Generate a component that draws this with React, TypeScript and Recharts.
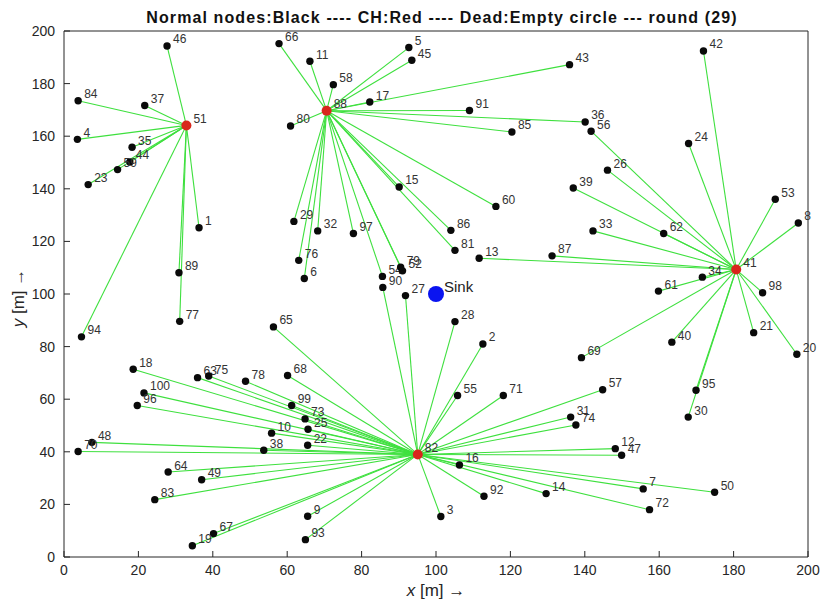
import React from 'react';
import { ScatterChart, Scatter, XAxis, YAxis, ReferenceLine, Label } from 'recharts';

// normal nodes: id, position [m] and the cluster head they report to
const NODE_IDS = [
  46, 84, 37, 4, 35, 44, 59, 23, 1, 89, 77, 94,
  66, 11, 58, 5, 45, 17, 43, 91, 36, 85, 80, 15, 60, 86, 81, 29, 32, 76, 6, 97, 54, 52, 79,
  42, 56, 24, 26, 39, 53, 8, 33, 62, 87, 13, 34, 61, 98, 21, 40, 69, 20, 95, 30,
  65, 18, 63, 75, 78, 68, 100, 96, 99, 73, 25, 10, 22, 48, 70, 38, 64, 49, 83, 9, 67, 19, 93,
  90, 27, 28, 2, 55, 71, 57, 31, 74, 12, 47, 7, 50, 72, 16, 92, 14, 3,
];
const NODE_X = [
  27.7, 3.8, 21.7, 3.6, 18.3, 17.7, 14.4, 6.5, 36.3, 30.9, 31.1, 4.7,
  57.8, 66.1, 72.4, 92.7, 93.5, 82.2, 135.9, 109.0, 140.1, 120.4, 60.9, 90.1, 116.1, 104.0, 105.1, 61.8, 68.2, 63.1, 64.6, 77.8, 85.6, 91.0, 90.5,
  171.9, 141.7, 167.9, 146.1, 136.9, 191.2, 197.4, 142.2, 161.2, 131.2, 111.6, 171.6, 159.8, 187.8, 185.4, 163.4, 139.1, 197.0, 169.9, 167.8,
  56.3, 18.6, 35.9, 38.9, 48.8, 60.1, 21.5, 19.7, 61.2, 64.8, 65.6, 55.8, 65.5, 7.5, 3.8, 53.7, 28.0, 37.0, 24.4, 65.5, 40.2, 34.5, 64.9,
  85.7, 91.8, 105.1, 112.6, 105.8, 118.1, 144.8, 136.2, 137.6, 148.2, 149.9, 155.7, 174.9, 157.4, 106.3, 112.9, 129.6, 101.3,
];
const NODE_Y = [
  194.3, 173.5, 171.7, 158.8, 155.8, 150.2, 147.3, 141.6, 125.2, 108.1, 89.6, 83.7,
  195.2, 188.5, 179.6, 193.7, 188.9, 173.0, 187.2, 169.8, 165.4, 161.6, 163.9, 140.7, 133.3, 124.2, 116.6, 127.6, 124.0, 112.8, 105.9, 123.0, 106.7, 108.8, 110.2,
  192.4, 161.9, 157.2, 147.1, 140.3, 136.0, 127.0, 124.0, 123.0, 114.5, 113.6, 106.4, 101.1, 100.5, 85.3, 81.7, 75.8, 77.1, 63.4, 53.2,
  87.5, 71.4, 68.2, 68.8, 66.8, 69.0, 62.4, 57.6, 57.6, 52.5, 48.6, 47.1, 42.5, 43.6, 40.1, 40.6, 32.3, 29.4, 21.8, 15.5, 8.9, 4.3, 6.6,
  102.5, 99.4, 89.5, 81.0, 61.4, 61.4, 63.6, 53.2, 50.2, 41.2, 38.7, 25.9, 24.6, 18.0, 35.0, 23.1, 24.1, 15.4,
];
const NODE_HEAD = [
  ...Array(12).fill(51),
  ...Array(23).fill(88),
  ...Array(20).fill(41),
  ...Array(41).fill(82),
];

// cluster heads
const CH_IDS = [51, 88, 41, 82];
const CH_X = [32.9, 70.6, 180.7, 95.1];
const CH_Y = [164.1, 169.7, 109.3, 39.0];

// base station
const SINK_X = [100];
const SINK_Y = [100];

const TICKS = [0, 20, 40, 60, 80, 100, 120, 140, 160, 180, 200];

const FONT = '"Liberation Sans", Arial, Helvetica, sans-serif';
const AXIS_COLOR = '#262626';
const LINK_COLOR = '#3ee03e';

const nodes = NODE_IDS.map((id, i) => ({ id, x: NODE_X[i], y: NODE_Y[i], head: NODE_HEAD[i] }));
const heads = CH_IDS.map((id, i) => ({ id, x: CH_X[i], y: CH_Y[i] }));
const sink = SINK_X.map((x, i) => ({ x, y: SINK_Y[i] }));
const headById: Record<number, { x: number; y: number }> = {};
heads.forEach((h) => (headById[h.id] = h));

const NodeDot = (props: any) => {
  const { cx, cy, payload } = props;
  return (
    <g>
      <circle cx={cx} cy={cy} r={3.7} fill="#0a0a0a" />
      <text x={cx + 6} y={cy - 2.5} fontSize={12} fill="#333" fontFamily={FONT}>
        {payload.id}
      </text>
    </g>
  );
};

const HeadDot = (props: any) => {
  const { cx, cy, payload } = props;
  return (
    <g>
      <circle cx={cx} cy={cy} r={5} fill="#d8261c" />
      <text x={cx + 7} y={cy - 2.5} fontSize={12} fill="#333" fontFamily={FONT}>
        {payload.id}
      </text>
    </g>
  );
};

const SinkDot = (props: any) => {
  const { cx, cy } = props;
  return (
    <g>
      <circle cx={cx} cy={cy} r={8} fill="#0a14f0" />
      <text x={cx + 8} y={cy - 2} fontSize={15} fill="#222" fontFamily={FONT}>
        Sink
      </text>
    </g>
  );
};

export default function App() {
  return (
    <div style={{ position: 'absolute', left: 0, top: 0, background: '#fff' }}>
      <ScatterChart width={821} height={605} margin={{ top: 30, right: 12, bottom: 18, left: 24 }}>
        <XAxis
          type="number"
          dataKey="x"
          domain={[0, 200]}
          ticks={TICKS}
          height={30}
          tickSize={-6}
          tickMargin={14}
          stroke={AXIS_COLOR}
          tick={{ fill: AXIS_COLOR, fontSize: 14, fontFamily: FONT }}
        >
          <Label
            content={() => (
              <text x={436} y={596} textAnchor="middle" fontSize={17} fill={AXIS_COLOR} fontFamily={FONT}>
                <tspan fontStyle="italic">x</tspan>
                <tspan> [m] →</tspan>
              </text>
            )}
          />
        </XAxis>
        <XAxis
          xAxisId="top"
          orientation="top"
          type="number"
          domain={[0, 200]}
          ticks={TICKS}
          height={1}
          tickSize={-6}
          tickFormatter={() => ''}
          stroke={AXIS_COLOR}
        >
          <Label
            content={() => (
              <text
                x={442}
                y={23}
                textAnchor="middle"
                fontSize={16}
                fontWeight="bold"
                letterSpacing={1.1}
                fill="#111"
                fontFamily={FONT}
              >
                Normal nodes:Black ---- CH:Red ---- Dead:Empty circle --- round (29)
              </text>
            )}
          />
        </XAxis>
        <YAxis
          type="number"
          dataKey="y"
          domain={[0, 200]}
          ticks={TICKS}
          width={40}
          tickSize={-6}
          tickMargin={15}
          stroke={AXIS_COLOR}
          tick={{ fill: AXIS_COLOR, fontSize: 14, fontFamily: FONT }}
        >
          <Label
            content={() => (
              <text
                x={18}
                y={298}
                transform="rotate(-90, 18, 298)"
                textAnchor="middle"
                dominantBaseline="central"
                fontSize={17}
                fill={AXIS_COLOR}
                fontFamily={FONT}
              >
                <tspan fontStyle="italic">y</tspan>
                <tspan> [m] →</tspan>
              </text>
            )}
          />
        </YAxis>
        <YAxis
          yAxisId="right"
          orientation="right"
          type="number"
          domain={[0, 200]}
          ticks={TICKS}
          width={1}
          tickSize={-6}
          tickFormatter={() => ''}
          stroke={AXIS_COLOR}
        />
        <Scatter data={nodes} shape={NodeDot} isAnimationActive={false} />
        <Scatter data={heads} shape={HeadDot} isAnimationActive={false} />
        <Scatter data={sink} shape={SinkDot} isAnimationActive={false} />
        {nodes.map((n) => {
          const h = headById[n.head];
          return (
            <ReferenceLine
              key={`link-${n.id}`}
              segment={[
                { x: n.x, y: n.y },
                { x: h.x, y: h.y },
              ]}
              stroke={LINK_COLOR}
              strokeWidth={1.1}
            />
          );
        })}
      </ScatterChart>
    </div>
  );
}
